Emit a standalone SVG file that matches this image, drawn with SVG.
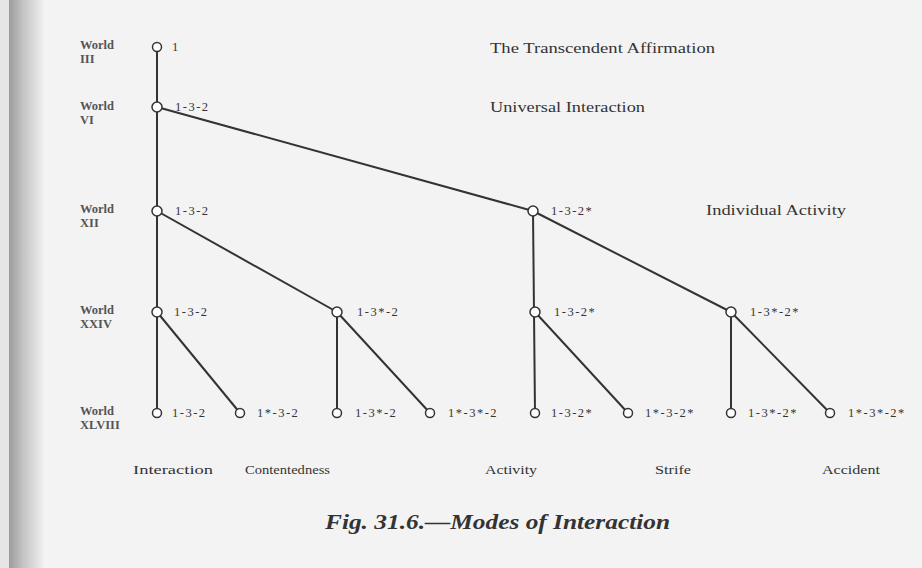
<svg xmlns="http://www.w3.org/2000/svg" width="922" height="568" viewBox="0 0 922 568">
<defs>
<linearGradient id="edge" x1="0" y1="0" x2="1" y2="0">
<stop offset="0" stop-color="#9c9c9c"/>
<stop offset="0.4" stop-color="#c4c4c4"/>
<stop offset="1" stop-color="#f3f3f3"/>
</linearGradient>
<style>
.world{font-family:"Liberation Serif",serif;font-size:12.5px;font-weight:bold;fill:#555}
.lbl{font-family:"Liberation Serif",serif;font-size:12.5px;letter-spacing:1.5px;fill:#333}
.head{font-family:"Liberation Serif",serif;font-size:15px;fill:#333}
.mode{font-family:"Liberation Serif",serif;font-size:13px;fill:#333}
.cap{font-family:"Liberation Serif",serif;font-size:22px;font-style:italic;font-weight:bold;fill:#333}
.node circle{fill:#fff;stroke:#333;stroke-width:1.5}
#connectors line{stroke:#333;stroke-width:2}
</style>
</defs>
<rect width="922" height="568" fill="#f3f3f3"/>
<rect x="0" y="0" width="9" height="568" fill="#e6e6e6"/>
<rect x="9" y="0" width="36" height="568" fill="url(#edge)"/>

<g id="connectors">
<line x1="157" y1="47" x2="157" y2="413"/>
<line x1="157" y1="107" x2="533" y2="211"/>
<line x1="157" y1="211" x2="337" y2="312"/>
<line x1="533" y1="211" x2="731" y2="312"/>
<line x1="533" y1="211" x2="535" y2="413"/>
<line x1="157" y1="312" x2="240" y2="413"/>
<line x1="337" y1="312" x2="337" y2="413"/>
<line x1="337" y1="312" x2="430" y2="413"/>
<line x1="535" y1="312" x2="628" y2="413"/>
<line x1="731" y1="312" x2="731" y2="413"/>
<line x1="731" y1="312" x2="830" y2="413"/>
</g>

<g id="worlds">
<text class="world" x="80" y="49">World</text><text class="world" x="80" y="63">III</text>
<text class="world" x="80" y="110">World</text><text class="world" x="80" y="124">VI</text>
<text class="world" x="80" y="213">World</text><text class="world" x="80" y="227">XII</text>
<text class="world" x="80" y="314">World</text><text class="world" x="80" y="328">XXIV</text>
<text class="world" x="80" y="415">World</text><text class="world" x="80" y="429">XLVIII</text>
</g>

<g id="headings">
<text class="head" x="490" y="53" textLength="225" lengthAdjust="spacingAndGlyphs">The Transcendent Affirmation</text>
<text class="head" x="490" y="112" textLength="155" lengthAdjust="spacingAndGlyphs">Universal Interaction</text>
<text class="head" x="706" y="215" textLength="140" lengthAdjust="spacingAndGlyphs">Individual Activity</text>
</g>

<g id="n-III" class="node"><circle cx="157" cy="47" r="4.5"/><text class="lbl" x="172" y="51">1</text></g>
<g id="n-VI" class="node"><circle cx="157" cy="107" r="5"/><text class="lbl" x="175" y="111">1-3-2</text></g>
<g id="n-XII-a" class="node"><circle cx="157" cy="211" r="5"/><text class="lbl" x="175" y="215">1-3-2</text></g>
<g id="n-XII-b" class="node"><circle cx="533" cy="211" r="5"/><text class="lbl" x="551" y="215">1-3-2*</text></g>
<g id="n-XXIV-a" class="node"><circle cx="157" cy="312" r="5"/><text class="lbl" x="174" y="316">1-3-2</text></g>
<g id="n-XXIV-b" class="node"><circle cx="337" cy="312" r="5"/><text class="lbl" x="357" y="316">1-3*-2</text></g>
<g id="n-XXIV-c" class="node"><circle cx="535" cy="312" r="5"/><text class="lbl" x="554" y="316">1-3-2*</text></g>
<g id="n-XXIV-d" class="node"><circle cx="731" cy="312" r="5"/><text class="lbl" x="750" y="316">1-3*-2*</text></g>
<g id="n-XLVIII-1" class="node"><circle cx="157" cy="413" r="4.5"/><text class="lbl" x="172" y="417">1-3-2</text></g>
<g id="n-XLVIII-2" class="node"><circle cx="240" cy="413" r="4.5"/><text class="lbl" x="257" y="417">1*-3-2</text></g>
<g id="n-XLVIII-3" class="node"><circle cx="337" cy="413" r="4.5"/><text class="lbl" x="355" y="417">1-3*-2</text></g>
<g id="n-XLVIII-4" class="node"><circle cx="430" cy="413" r="4.5"/><text class="lbl" x="448" y="417">1*-3*-2</text></g>
<g id="n-XLVIII-5" class="node"><circle cx="535" cy="413" r="4.5"/><text class="lbl" x="551" y="417">1-3-2*</text></g>
<g id="n-XLVIII-6" class="node"><circle cx="628" cy="413" r="4.5"/><text class="lbl" x="645" y="417">1*-3-2*</text></g>
<g id="n-XLVIII-7" class="node"><circle cx="731" cy="413" r="4.5"/><text class="lbl" x="748" y="417">1-3*-2*</text></g>
<g id="n-XLVIII-8" class="node"><circle cx="830" cy="413" r="4.5"/><text class="lbl" x="848" y="417">1*-3*-2*</text></g>

<g id="modes">
<text class="mode" x="133" y="474" textLength="80" lengthAdjust="spacingAndGlyphs">Interaction</text>
<text class="mode" x="245" y="474" textLength="85" lengthAdjust="spacingAndGlyphs">Contentedness</text>
<text class="mode" x="485" y="474" textLength="52" lengthAdjust="spacingAndGlyphs">Activity</text>
<text class="mode" x="655" y="474" textLength="36" lengthAdjust="spacingAndGlyphs">Strife</text>
<text class="mode" x="822" y="474" textLength="58" lengthAdjust="spacingAndGlyphs">Accident</text>
</g>

<text class="cap" x="325" y="529" textLength="345" lengthAdjust="spacingAndGlyphs">Fig. 31.6.—Modes of Interaction</text>
</svg>
